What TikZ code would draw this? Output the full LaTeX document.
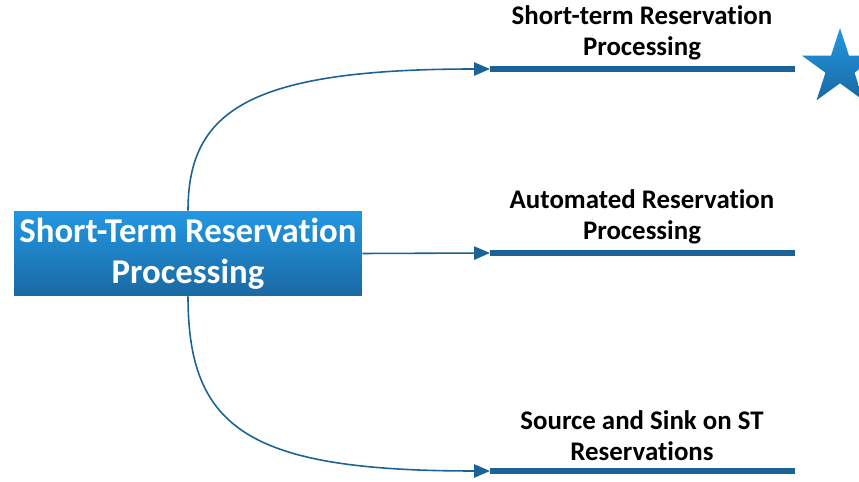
\documentclass[tikz,border=0pt]{standalone}
\usepackage{fontspec}
\setmainfont{Carlito}[Ligatures=NoCommon]
\usepackage{tikz}
\usetikzlibrary{arrows.meta,shapes.geometric}
\pgfdeclarelayer{edgelayer}
\pgfdeclarelayer{nodelayer}
\pgfsetlayers{edgelayer,nodelayer,main}
\definecolor{boxtop}{HTML}{2397E2}
\definecolor{boxbot}{HTML}{1A69A3}
\definecolor{linkblue}{HTML}{1B6396}
\tikzstyle{mainbox}=[rectangle, top color=boxtop, bottom color=boxbot, draw=none, text=white, align=center, minimum width=6.96cm, minimum height=1.7cm, inner sep=0pt, font=\bfseries\fontsize{19.8}{23.5}\selectfont]
\tikzstyle{caption}=[align=center, inner sep=0pt, font=\bfseries\fontsize{15.3}{17.5}\selectfont]
\tikzstyle{bar}=[draw=linkblue, line width=3.4pt]
\tikzstyle{link}=[draw=linkblue, line width=0.9pt, -{Triangle[length=9pt, width=7.5pt]}]
\tikzstyle{starmark}=[star, star points=5, star point ratio=2.618, minimum size=1.6cm, inner sep=0pt, top color=boxtop, bottom color=boxbot, draw=none]

\begin{document}
\begin{tikzpicture}[x=0.02cm, y=-0.02cm]
	\clip (0, 0) rectangle (859, 482);
	\useasboundingbox (0, 0) rectangle (859, 482);
	\begin{pgfonlayer}{nodelayer}
		\node [style=mainbox] (0) at (188, 253.5) {Short-Term Reservation\\Processing};
		\coordinate (1) at (490, 69);
		\coordinate (2) at (795, 69);
		\coordinate (3) at (490, 253);
		\coordinate (4) at (795, 253);
		\coordinate (5) at (490, 471);
		\coordinate (6) at (795, 471);
		\node [style=caption] (7) at (642, 33) {Short-term Reservation\\Processing};
		\node [style=caption] (8) at (642, 217) {Automated Reservation\\Processing};
		\node [style=caption] (9) at (642, 436) {Source and Sink on ST\\Reservations};
		\node [style=starmark] (10) at (840, 68) {};
	\end{pgfonlayer}
	\begin{pgfonlayer}{edgelayer}
		\draw [style=bar] (1) to (2);
		\draw [style=bar] (3) to (4);
		\draw [style=bar] (5) to (6);
		\draw [style=link] (0.north) .. controls (188, 110) and (250, 69) .. (1);
		\draw [style=link] (0.east) to (3);
		\draw [style=link] (0.south) .. controls (188, 430) and (250, 471) .. (5);
	\end{pgfonlayer}
\end{tikzpicture}
\end{document}
